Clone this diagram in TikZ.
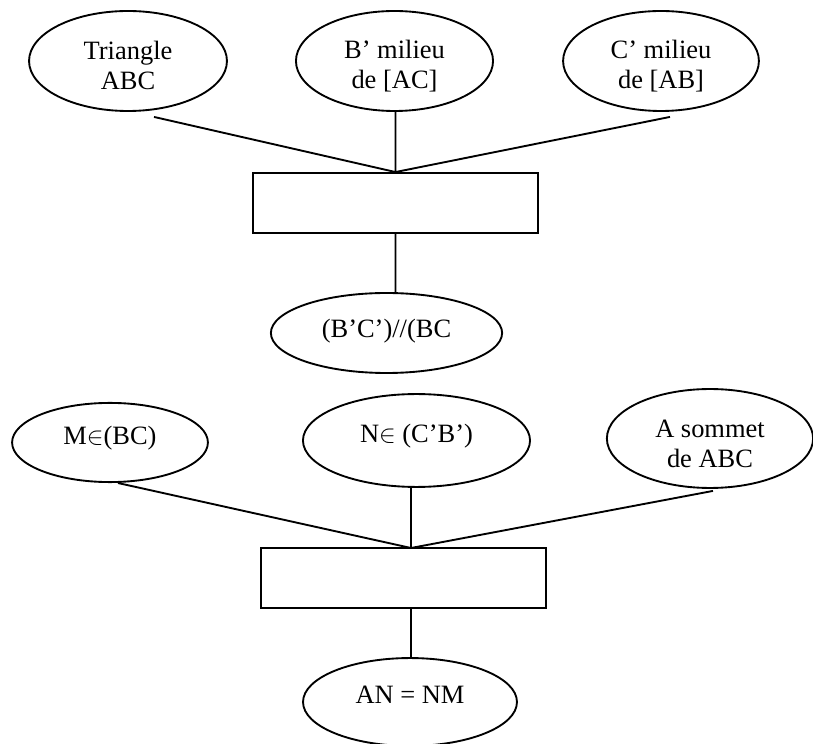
\documentclass[tikz,border=0pt]{standalone}
\usepackage{fontspec}
\setmainfont{Liberation Serif}
\usetikzlibrary{positioning,shapes.geometric}

\begin{document}
\begin{tikzpicture}[x=0.48pt,y=-0.48pt]
	
		\tikzset{ovalstyle/.style={draw,ellipse,inner sep=0pt,line width=0.9pt,align=center,font=\fontsize{12.7}{14.4}\selectfont}}
		\tikzset{raisedtext/.style={text depth=6.5pt}}
		\tikzset{boxstyle/.style={draw,rectangle,line width=0.9pt,minimum width=136.8pt,minimum height=28.8pt}}
		\tikzset{linkedge/.style={-,line width=0.9pt}}
		
		\newcommand\topStrut{\rule{0pt}{13.5pt}}
		
		\useasboundingbox (0,0) rectangle (813,744);
		
		% premier pas
		\node[ovalstyle,minimum width=95pt,minimum height=48pt] (tri) at (128,61) {\topStrut Triangle\\ABC};
		\node[ovalstyle,minimum width=94.6pt,minimum height=48pt] (milB) at (394.5,61) {\topStrut B’ milieu\\de [AC]};
		\node[ovalstyle,minimum width=94pt,minimum height=48pt] (milC) at (661,61) {\topStrut C’ milieu\\de [AB]};
		\node[boxstyle] (box1) at (395.5,203) {};
		\node[ovalstyle,minimum width=111pt,minimum height=38.4pt,text depth=4.2pt] (para) at (386.5,333) {(B’C’)//(BC};
		
		\draw[linkedge]
		([shift={(26,5)}]tri.south) to (box1.north)
		(box1.north |- milB.south) to (box1.north)
		([shift={(9,5)}]milC.south) to (box1.north)
		(box1.south) to (box1.south |- para.north);
		
		% second pas
		\node[ovalstyle,raisedtext,minimum width=94pt,minimum height=38pt] (inBC) at (110,442.5) {M$\in$(BC)};
		\node[ovalstyle,raisedtext,minimum width=109pt,minimum height=44.6pt] (inCB) at (416.5,440.5) {N$\in$ (C’B’)};
		\node[ovalstyle,minimum width=99pt,minimum height=47.5pt] (somA) at (710,438.5) {\topStrut A sommet\\de ABC};
		\node[boxstyle] (box2) at (403.5,578) {};
		\coordinate (hub2) at (411,548);
		\node[ovalstyle,raisedtext,minimum width=102.7pt,minimum height=42.2pt] (egal) at (410,702) {AN = NM};
		
		\draw[linkedge]
		([shift={(8,0)}]inBC.south) to (hub2)
		(hub2 |- inCB.south) to (hub2)
		([shift={(3,2)}]somA.south) to (hub2)
		(hub2 |- box2.south) to (hub2 |- egal.north);
	\end{tikzpicture}
\end{document}
